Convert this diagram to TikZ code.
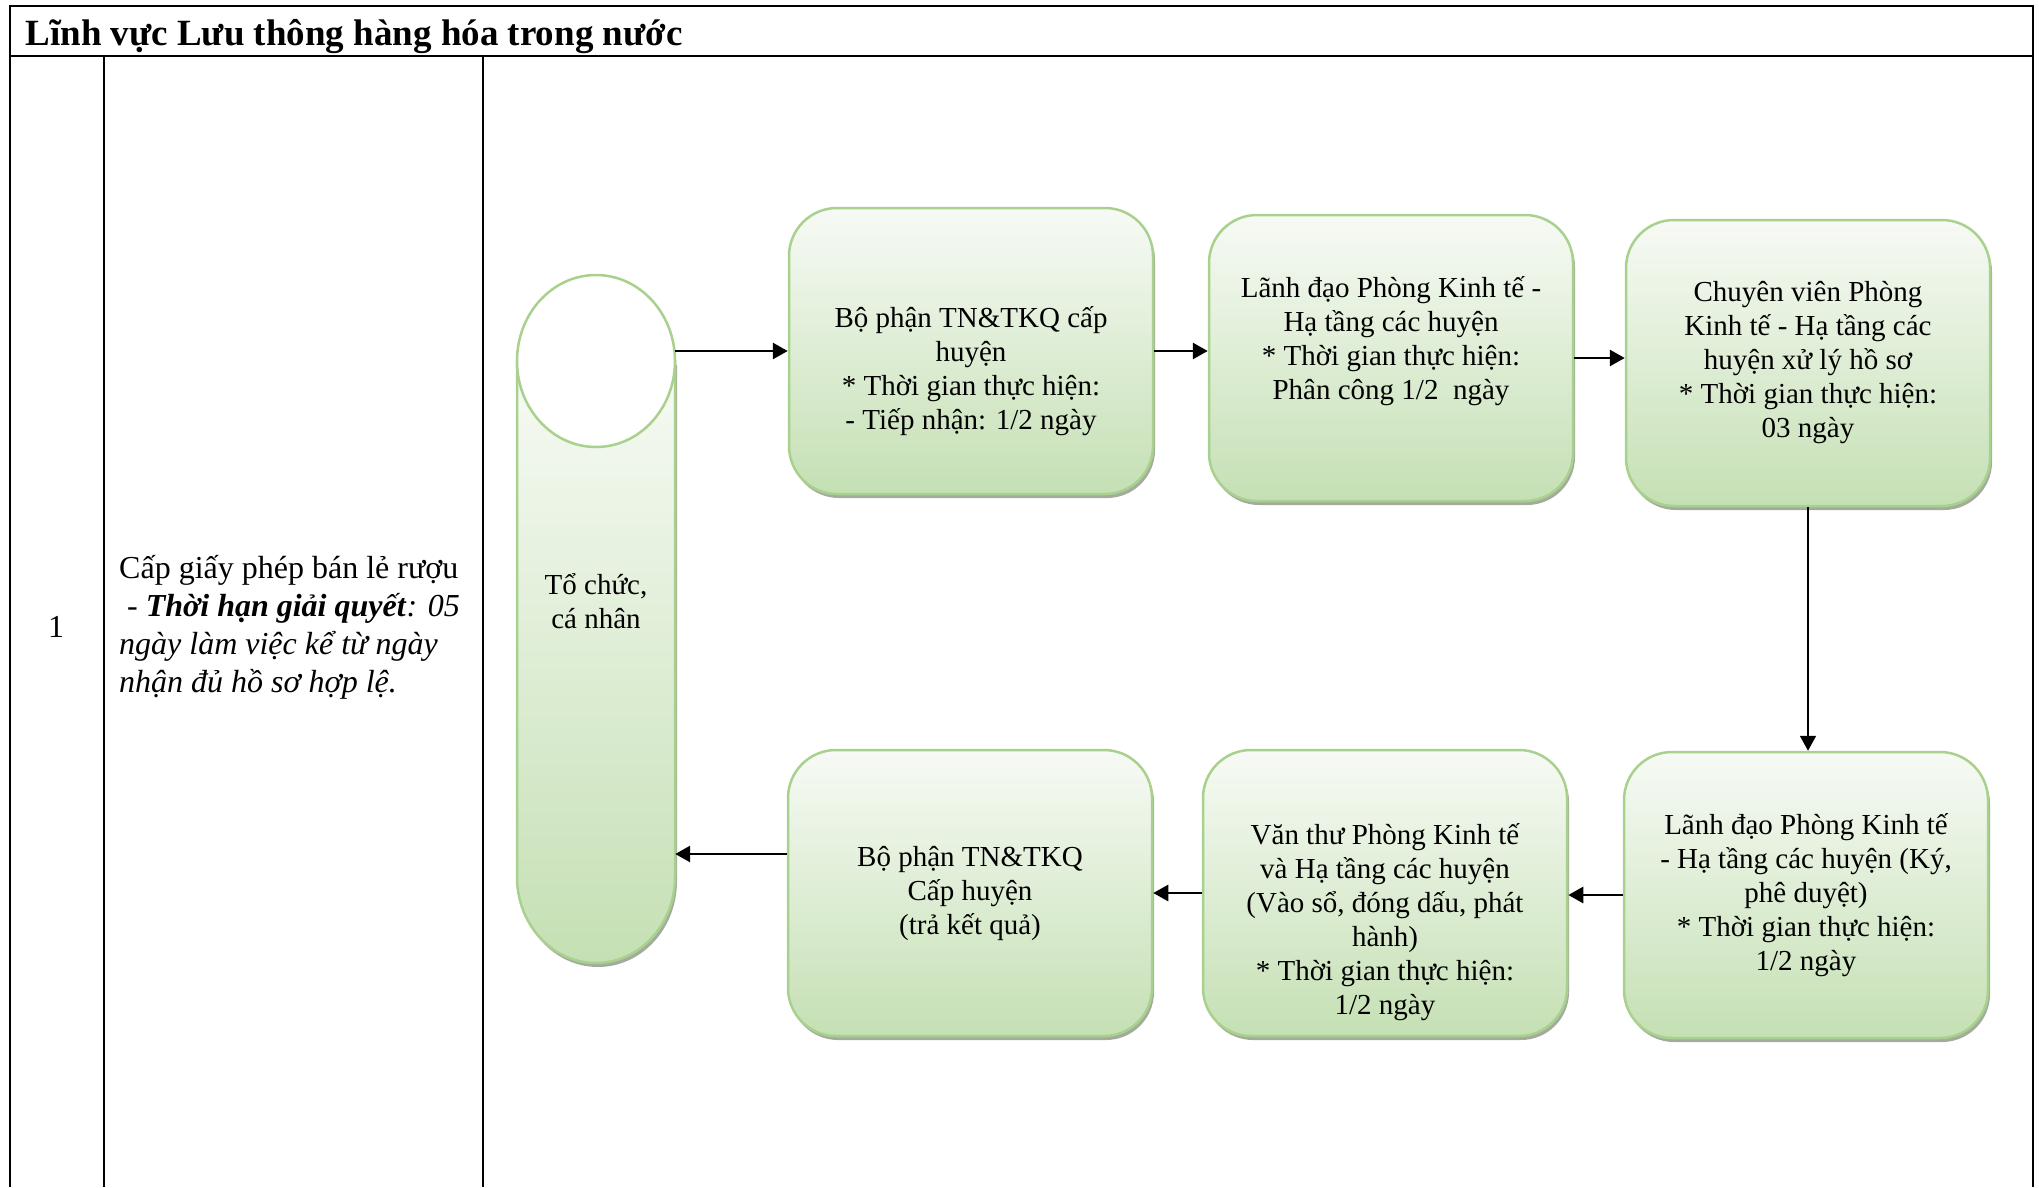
\documentclass[tikz,border=0pt]{standalone}
\usepackage{fontspec}
\setmainfont{Liberation Serif}
\usetikzlibrary{arrows.meta,shadows}
\definecolor{boxline}{HTML}{A9D18E}
\definecolor{boxtop}{HTML}{F7FAF5}
\definecolor{boxbot}{HTML}{C5E0B4}
\definecolor{boxshadow}{HTML}{A3AC9C}
\tikzset{
  boxshade/.style={top color=boxtop, bottom color=boxbot, draw=boxline, line width=2.5pt,
    drop shadow={shadow xshift=2pt, shadow yshift=-4pt, fill=boxshadow, opacity=1}},
  stepbox/.style={boxshade, rounded corners=48pt, minimum width=364pt, minimum height=286pt,
    align=center, font=\fontsize{29pt}{34pt}\selectfont},
  flow/.style={line width=2.8pt, -{Triangle[length=15pt,width=16pt]}},
}
\begin{document}
\begin{tikzpicture}[x=1pt,y=-1pt]
\useasboundingbox (0,0) rectangle (2039,1187);
\draw[line width=2.5pt] (10,1187) -- (10,6) -- (2033,6) -- (2033,1187);
\draw[line width=2.5pt] (10,56) -- (2033,56);
\foreach \x in {104,483} {
\draw[line width=1.6pt] (\x,56) -- (\x,1187);
}
\node[anchor=base west, font=\bfseries\fontsize{37pt}{40pt}\selectfont] (title) at (22,45) {Lĩnh vực Lưu thông hàng hóa trong nước};
\node[anchor=base, font=\fontsize{32pt}{38pt}\selectfont] (num) at (56,637) {1};
\node[anchor=base west, align=left, inner sep=0pt, font=\fontsize{32pt}{38pt}\selectfont] (desc) at (119,692)
  {Cấp giấy phép bán lẻ rượu\\\ - \textbf{\textit{Thời hạn giải quyết}}\textit{: 05}\\\textit{ngày làm việc kể từ ngày}\\\textit{nhận đủ hồ sơ hợp lệ.}};
\shade[boxshade] (517,361) -- (517,877) arc[start angle=180, end angle=0, x radius=79, y radius=86] -- (675,361) -- cycle;
\draw[boxline, line width=2.5pt, fill=white] (596,361) ellipse[x radius=79, y radius=86];
\node[align=center, minimum width=158pt, font=\fontsize{29pt}{34pt}\selectfont] (org) at (596,601) {Tổ chức,\\cá nhân};
\node[stepbox] (b1) at (971,351) {\rule{0pt}{62pt}Bộ phận TN\&TKQ cấp\\huyện\\* Thời gian thực hiện:\\- Tiếp nhận: 1/2 ngày};
\node[stepbox] (b2) at (1391,358) {Lãnh đạo Phòng Kinh tế -\\Hạ tầng các huyện\\* Thời gian thực hiện:\\Phân công 1/2 \ ngày\rule[-40pt]{0pt}{40pt}};
\node[stepbox] (b3) at (1808,363) {Chuyên viên Phòng\\Kinh tế - Hạ tầng các\\huyện xử lý hồ sơ\\* Thời gian thực hiện:\\03 ngày};
\node[stepbox] (b6) at (1806,895) {Lãnh đạo Phòng Kinh tế\\- Hạ tầng các huyện (Ký,\\phê duyệt)\\* Thời gian thực hiện:\\1/2 ngày};
\node[stepbox] (b5) at (1385,893) {\rule{0pt}{80pt}Văn thư Phòng Kinh tế\\và Hạ tầng các huyện\\(Vào sổ, đóng dấu, phát\\hành)\\* Thời gian thực hiện:\\1/2 ngày};
\node[stepbox] (b4) at (970,893) {Bộ phận TN\&TKQ\\Cấp huyện\\(trả kết quả)};
\draw[flow] (org.east |- b1.west) -- (b1.west);
\draw[flow] (b1.east) -- (b1.east -| b2.west);
\draw[flow] (b2.east) -- (b2.east -| b3.west);
\draw[flow, line width=1.6pt] (b3.south) -- (b3.south |- b6.north);
\draw[flow] (b6.west) -- (b6.west -| b5.east);
\draw[flow] (b5.west) -- (b5.west -| b4.east);
\draw[flow] ([yshift=39pt]b4.west) -- ([yshift=39pt]b4.west -| org.east);
\end{tikzpicture}
\end{document}
